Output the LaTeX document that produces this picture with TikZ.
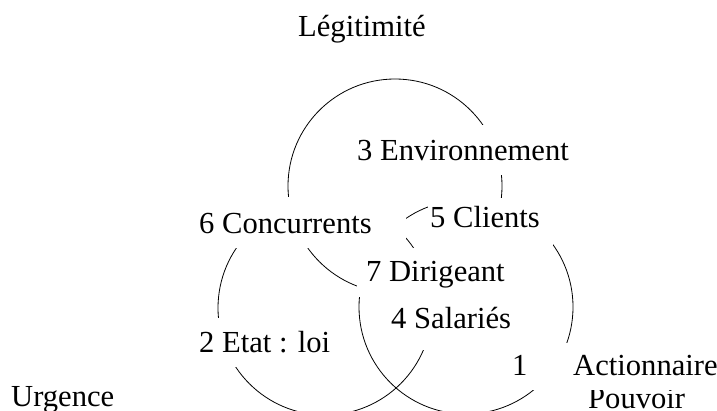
\documentclass[tikz,border=0pt]{standalone}
\usepackage{fontspec}
\setmainfont{Liberation Serif}
\begin{document}
\begin{tikzpicture}[x=1pt,y=-1pt,
  ring/.style={draw=black,line width=0.8pt},
  lbl/.style={anchor=base west,inner sep=0pt,font=\fontsize{30.6}{36}\selectfont},
  mask/.style={fill=white}]
\useasboundingbox[fill=white] (0,0) rectangle (717,410);
% circles
\draw[ring] (395,186) circle[radius=107];
\draw[ring] (325,308) circle[radius=107];
\draw[ring] (466,307) circle[radius=107];
% outer labels
\node[lbl] (leg) at (298,36) {Légitimité};
\node[lbl] (urg) at (11,406) {Urgence};
\node[lbl] (pouv) at (588,408) {Pouvoir};
% text boxes with white backgrounds
\fill[mask] (350,125) rectangle (580,175);
\node[lbl] (env) at (357,160) {3 Environnement};
\fill[mask] (195,197) rectangle (406,248);
\node[lbl] (conc) at (199,233) {6 Concurrents};
\fill[mask] (428,198) rectangle (553,248);
\node[lbl] (cli) at (430,227) {5 Clients};
\fill[mask] (357,248) rectangle (515,297);
\node[lbl] (dir) at (366,281) {7 Dirigeant};
\fill[mask] (380,297) rectangle (520,350);
\node[lbl] (sal) at (391,328) {4 Salariés};
\fill[mask] (195,318) rectangle (335,367);
\node[lbl] (etat) at (199,352) {2 Etat : loi};
\fill[mask] (505,343) rectangle (717,390);
\node[lbl] (one) at (512,375) {1};
\node[lbl] (act) at (573,375) {Actionnaire};
\end{tikzpicture}
\end{document}
